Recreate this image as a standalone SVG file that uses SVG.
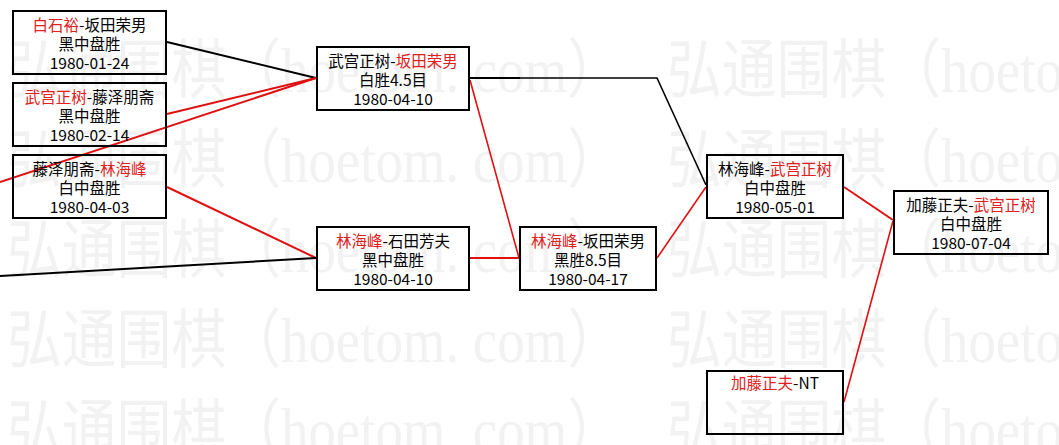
<svg xmlns="http://www.w3.org/2000/svg" width="1059" height="445" viewBox="0 0 1059 445">
<style>
.wm{font-family:"Liberation Serif","Noto Sans CJK SC",serif;font-size:64px;fill:#f2f2f2}
.box{fill:none;stroke:#000;stroke-width:2}
.t{font-family:"Noto Sans CJK SC","Noto Sans CJK JP",sans-serif;font-size:15.5px;fill:#000;text-anchor:middle}
.r{fill:#e02020}
.lk{stroke:#000;stroke-width:2;fill:none}
.lr{stroke:#e01010;stroke-width:2;fill:none}
</style>
<rect width="1059" height="445" fill="#fff"/>
<g id="watermark">
<text class="wm" x="7" y="92" textLength="615" lengthAdjust="spacingAndGlyphs">弘通围棋（hoetom. com）</text>
<text class="wm" x="667" y="92" textLength="615" lengthAdjust="spacingAndGlyphs">弘通围棋（hoetom. com）</text>
<text class="wm" x="7" y="182" textLength="615" lengthAdjust="spacingAndGlyphs">弘通围棋（hoetom. com）</text>
<text class="wm" x="667" y="182" textLength="615" lengthAdjust="spacingAndGlyphs">弘通围棋（hoetom. com）</text>
<text class="wm" x="7" y="272" textLength="615" lengthAdjust="spacingAndGlyphs">弘通围棋（hoetom. com）</text>
<text class="wm" x="667" y="272" textLength="615" lengthAdjust="spacingAndGlyphs">弘通围棋（hoetom. com）</text>
<text class="wm" x="7" y="362" textLength="615" lengthAdjust="spacingAndGlyphs">弘通围棋（hoetom. com）</text>
<text class="wm" x="667" y="362" textLength="615" lengthAdjust="spacingAndGlyphs">弘通围棋（hoetom. com）</text>
<text class="wm" x="7" y="452" textLength="615" lengthAdjust="spacingAndGlyphs">弘通围棋（hoetom. com）</text>
<text class="wm" x="667" y="452" textLength="615" lengthAdjust="spacingAndGlyphs">弘通围棋（hoetom. com）</text>
</g>
<g id="connectors">
<line class="lk" x1="167" y1="42" x2="316" y2="78"/>
<line class="lr" x1="167" y1="114" x2="316" y2="78"/>
<line class="lr" x1="0" y1="182" x2="316" y2="78"/>
<line class="lr" x1="167" y1="187" x2="316" y2="258"/>
<line class="lk" x1="0" y1="276" x2="316" y2="258"/>
<line class="lk" x1="470" y1="78" x2="520" y2="78"/>
<polyline class="lk" style="stroke-width:1.6" points="520,78 657,78 706,185"/>
<line class="lr" style="stroke-width:1.6" x1="470" y1="80" x2="519" y2="258"/>
<line class="lr" x1="470" y1="258" x2="519" y2="258"/>
<line class="lr" style="stroke-width:1.6" x1="657" y1="258" x2="706" y2="187"/>
<line class="lr" x1="844" y1="187" x2="893" y2="220"/>
<line class="lr" style="stroke-width:1.6" x1="844" y1="402" x2="893" y2="221"/>
</g>
<g id="n1"><rect class="box" x="13" y="11" width="153" height="63"/>
<text class="t" x="89.5" y="31"><tspan class="r">白石裕</tspan>-坂田荣男</text>
<text class="t" x="89.5" y="50">黑中盘胜</text>
<text class="t" x="89.5" y="69">1980-01-24</text></g>
<g id="n2"><rect class="box" x="13" y="83" width="153" height="63"/>
<text class="t" x="89.5" y="103"><tspan class="r">武宫正树</tspan>-藤泽朋斋</text>
<text class="t" x="89.5" y="122">黑中盘胜</text>
<text class="t" x="89.5" y="141">1980-02-14</text></g>
<g id="n3"><rect class="box" x="13" y="155" width="153" height="63"/>
<text class="t" x="89.5" y="175">藤泽朋斋-<tspan class="r">林海峰</tspan></text>
<text class="t" x="89.5" y="194">白中盘胜</text>
<text class="t" x="89.5" y="213">1980-04-03</text></g>
<g id="n4"><rect class="box" x="317" y="47" width="152" height="63"/>
<text class="t" x="393" y="67">武宫正树-<tspan class="r">坂田荣男</tspan></text>
<text class="t" x="393" y="86">白胜4.5目</text>
<text class="t" x="393" y="105">1980-04-10</text></g>
<g id="n5"><rect class="box" x="317" y="227" width="152" height="63"/>
<text class="t" x="393" y="247"><tspan class="r">林海峰</tspan>-石田芳夫</text>
<text class="t" x="393" y="266">黑中盘胜</text>
<text class="t" x="393" y="285">1980-04-10</text></g>
<g id="n6"><rect class="box" x="520" y="227" width="136" height="63"/>
<text class="t" x="588" y="247"><tspan class="r">林海峰</tspan>-坂田荣男</text>
<text class="t" x="588" y="266">黑胜8.5目</text>
<text class="t" x="588" y="285">1980-04-17</text></g>
<g id="n7"><rect class="box" x="707" y="155" width="136" height="63"/>
<text class="t" x="775" y="175">林海峰-<tspan class="r">武宫正树</tspan></text>
<text class="t" x="775" y="194">白中盘胜</text>
<text class="t" x="775" y="213">1980-05-01</text></g>
<g id="n8"><rect class="box" x="894" y="191" width="154" height="63"/>
<text class="t" x="971" y="211">加藤正夫-<tspan class="r">武宫正树</tspan></text>
<text class="t" x="971" y="230">白中盘胜</text>
<text class="t" x="971" y="249">1980-07-04</text></g>
<g id="n9"><rect class="box" x="707" y="371" width="136" height="63"/>
<text class="t" x="775" y="389"><tspan class="r">加藤正夫</tspan>-NT</text></g>
</svg>
